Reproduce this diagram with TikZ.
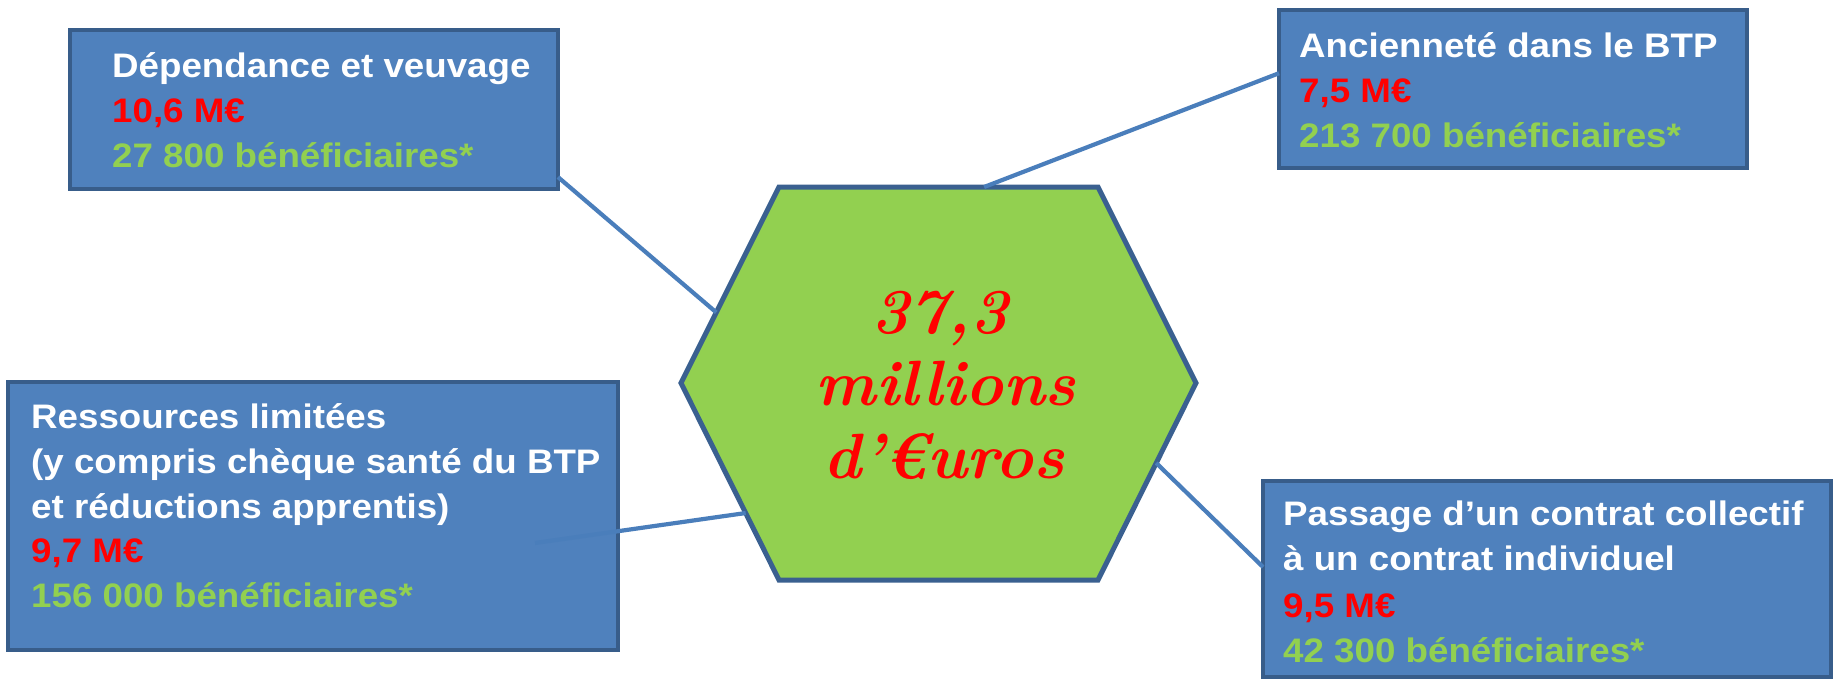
\documentclass[tikz,border=0pt]{standalone}
\usepackage{fontspec}
\newfontfamily\boxfont{Liberation Sans}[FakeStretch=1.08]
\newfontfamily\hexfont{Latin Modern Roman}
\usetikzlibrary{calc}
\definecolor{boxfill}{HTML}{4F81BD}
\definecolor{boxline}{HTML}{385D8A}
\definecolor{hexfill}{HTML}{92D050}
\definecolor{hexline}{HTML}{3A6090}
\definecolor{conn}{HTML}{4A7EBB}
\definecolor{valred}{HTML}{FF0000}
\definecolor{bengreen}{HTML}{92D050}
\begin{document}
\begin{tikzpicture}[x=1pt,y=-1pt,
  infobox/.style={draw=boxline, fill=boxfill, line width=4.5pt, rectangle, inner sep=0pt, outer sep=0pt, anchor=north west},
  txt/.style={anchor=base west, inner sep=0pt, font=\boxfont\bfseries\fontsize{34}{40}\selectfont},
  title/.style={txt, text=white},
  amount/.style={txt, text=valred},
  benef/.style={txt, text=bengreen},
  link/.style={draw=conn, line width=4.2pt},
  hexshape/.style={draw=hexline, fill=hexfill, line width=5pt, line join=miter},
  hextxt/.style={anchor=base, inner sep=0pt, text=valred, font=\hexfont\bfseries\itshape\fontsize{64}{74}\selectfont}]
\fill[white] (0,0) rectangle (1835,681);
\useasboundingbox (0,0) rectangle (1835,681);
\clip (0,0) rectangle (1835,681);

% boxes
\node[infobox, minimum width=488pt, minimum height=159pt] (b1) at (70,30) {};
\node[infobox, minimum width=468pt, minimum height=158pt] (b2) at (1279,10) {};
\node[infobox, minimum width=610pt, minimum height=268pt] (b3) at (8,382) {};
\node[infobox, minimum width=568pt, minimum height=196pt] (b4) at (1263,481) {};

% box texts
\node[title]  (t1a) at (112,77)  {Dépendance et veuvage};
\node[amount] (t1b) at (112,122) {10,6 M€};
\node[benef]  (t1c) at (112,167) {27 800 bénéficiaires*};

\node[title]  (t2a) at (1299,57)  {Ancienneté dans le BTP};
\node[amount] (t2b) at (1299,102) {7,5 M€};
\node[benef]  (t2c) at (1299,147) {213 700 bénéficiaires*};

\node[title]  (t3a) at (31,428) {Ressources limitées};
\node[title]  (t3b) at (31,473) {(y compris chèque santé du BTP};
\node[title]  (t3c) at (31,518) {et réductions apprentis)};
\node[amount] (t3d) at (31,562) {9,7 M€};
\node[benef]  (t3e) at (31,607) {156 000 bénéficiaires*};

\node[title]  (t4a) at (1283,525) {Passage d’un contrat collectif};
\node[title]  (t4b) at (1283,570) {à un contrat individuel};
\node[amount] (t4c) at (1283,617) {9,5 M€};
\node[benef]  (t4d) at (1283,662) {42 300 bénéficiaires*};

% hexagon
\coordinate (hTL) at (779,187);
\coordinate (hTR) at (1098,187);
\coordinate (hR)  at (1196,383);
\coordinate (hBR) at (1098,580);
\coordinate (hBL) at (779,580);
\coordinate (hL)  at (681,383);
\draw[hexshape] (hTL) -- (hTR) -- (hR) -- (hBR) -- (hBL) -- (hL) -- cycle;

\node[hextxt] (h1) at (940,333) {37,3};
\node[hextxt] (h2) at (946,405) {millions};
\node[hextxt] (h3) at (944,478) {d’€uros};

% connectors
\coordinate (e1) at ($(hTL)!0.64!(hL)$);
\coordinate (e2) at ($(hTL)!0.643!(hTR)$);
\coordinate (e3) at ($(hL)!0.66!(hBL)$);
\coordinate (e4) at ($(hR)!0.406!(hBR)$);
\coordinate (s3) at ($(b3.south east)+(-83,-107)$);
\draw[link] ($(b1.north east)!0.925!(b1.south east)$) -- (e1);
\draw[link] ($(b2.north west)!0.4!(b2.south west)$) -- (e2);
\draw[link] (s3) -- (e3);
\draw[link] (e4) -- ($(b4.north west)+(0,86)$);
\end{tikzpicture}
\end{document}
